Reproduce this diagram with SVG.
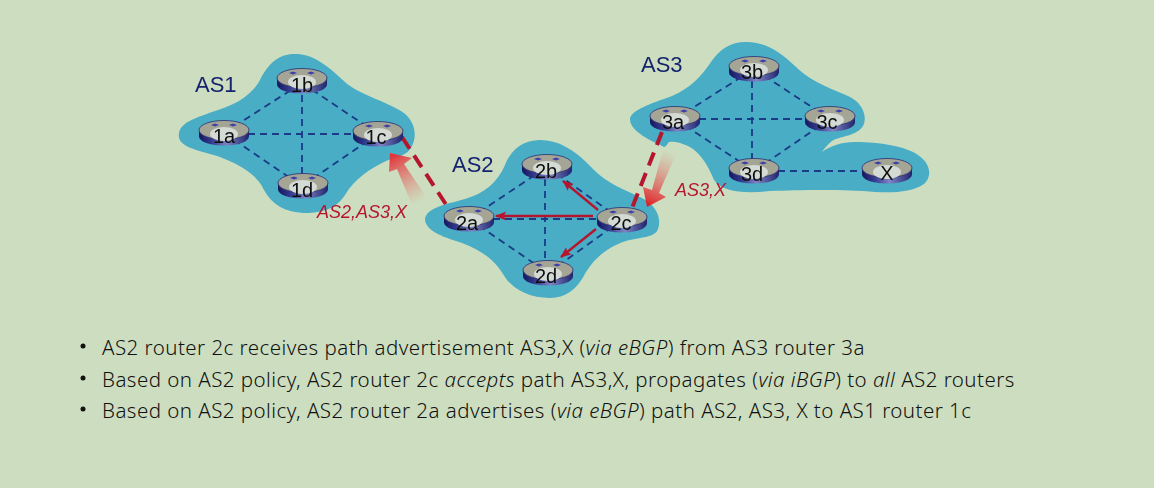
<svg xmlns="http://www.w3.org/2000/svg" width="1154" height="488" viewBox="0 0 1154 488">
<style>
.cloud{fill:#48adc6}
.link{fill:none;stroke:#1a3a86;stroke-width:1.8;stroke-dasharray:7 5}
.ebgp{fill:none;stroke:#b5182f;stroke-width:4;stroke-dasharray:14 8}
.ibgp{fill:none;stroke:#b5182f;stroke-width:2.4;marker-end:url(#ah)}
.rl{font-family:"Liberation Sans",Arial,sans-serif;font-size:20px;fill:#111;text-anchor:middle}
.as{font-family:"Liberation Sans",Arial,sans-serif;font-size:22px;fill:#14246e}
.pl{font-family:"Liberation Sans",Arial,sans-serif;font-size:18px;font-style:italic;fill:#b5182f}
.t{font-family:"Noto Sans","Liberation Sans",sans-serif;font-size:20.500px;letter-spacing:.46px;fill:#111;font-weight:300}
.i{font-style:italic}
</style>
<defs>
<marker id="ah" markerUnits="userSpaceOnUse" markerWidth="12" markerHeight="10" refX="10" refY="4.5" orient="auto"><path d="M0 0L11 4.5L0 9L2 4.5Z" fill="#b5182f"/></marker>
<linearGradient id="g1" gradientUnits="userSpaceOnUse" x1="420" y1="202" x2="393" y2="155"><stop offset="0" stop-color="#e8756c" stop-opacity="0"/><stop offset="1" stop-color="#e2343a"/></linearGradient>
<linearGradient id="g2" gradientUnits="userSpaceOnUse" x1="670" y1="151" x2="648" y2="205"><stop offset="0" stop-color="#e8756c" stop-opacity="0"/><stop offset="1" stop-color="#e0232a"/></linearGradient>
<linearGradient id="rg" x1="0" x2="1" y1="0" y2="0"><stop offset="0" stop-color="#15185e"/><stop offset=".25" stop-color="#343a8e"/><stop offset=".55" stop-color="#7d83c4"/><stop offset="1" stop-color="#20246e"/></linearGradient>
<g id="router">
<path d="M-25-3V3C-25 9-14 12.500 0 12.500S25 9 25 3V-3Z" fill="url(#rg)"/>
<ellipse cx="0" cy="-3" rx="25" ry="9.500" fill="#a5a596" stroke="#2a2d70" stroke-width=".8"/>
<ellipse cx="0" cy="1" rx="14" ry="7" fill="#d4dad4"/>
<path d="M-13-8l4-1.500 4 1.500-4 1.500ZM5-8l4-1.500 4 1.500-4 1.500Z" fill="#3d3fa8"/>
</g>
<filter id="soft" x="-5%" y="-5%" width="110%" height="110%"><feGaussianBlur stdDeviation="0.5"/></filter>
</defs>
<rect width="1154" height="488" fill="#cddec0"/>
<g filter="url(#soft)">
<g id="clouds">
<path class="cloud" d="M179 133C181 122 196 118 212 112C232 106 250 98 260 80C268 64 278 54 295 54C312 54 326 64 345 82C358 94 385 101 401 111C414 119 418 134 412 146C408 156 396 157 386 161C370 169 355 178 345 195C335 211 318 213 303 213C285 212 272 205 264 190C256 173 238 164 220 157C200 150 176 148 179 133Z"/>
<path class="cloud" d="M425 219C427 208 443 205 465 199C485 193 497 183 505 165C511 149 524 140 540 140C558 140 574 149 592 168C606 183 625 190 642 198C656 205 662 218 658 229C655 238 640 237 626 241C610 246 596 256 586 272C577 290 565 298 550 298C530 298 512 290 503 274C494 259 479 249 462 243C447 238 425 232 425 219Z"/>
<path class="cloud" d="M630 119C631 110 650 104 672 96C690 88 700 78 711 62C720 49 730 42 746 42C766 42 780 52 795 66C806 78 826 87 848 96C862 102 868 116 863 126C857 136 840 136 832 141C827 145 824 149 822 152C830 146 842 142 855 142C880 142 905 146 918 155C930 163 933 176 924 184C912 192 895 193 875 192C845 189 800 190 770 191C745 194 722 192 714 180C708 165 700 152 688 146C680 142 673 141 669 142C667 144 666 147 664 147C652 141 630 132 630 119Z"/>
</g>
<g id="connectors">
<path class="link" d="M224 133L302 83M224 134H378M224 133L302 186M302 83L378 134M302 83V186M378 134L302 186"/>
<path class="link" d="M469 219L547 167M469 219H622M469 219L548 273M547 167L622 220M545 167V273M622 220L548 273"/>
<path class="link" d="M675 119L754 69M675 119H830M675 119L754 171M754 69L830 119M752 69V171M830 119L754 171M754 171H887"/>
<path class="ebgp" d="M402 137L447 206"/>
<path class="ebgp" d="M662 132L632 208"/>
<path d="M390 153L412 158L404 164L427 198L412 205L397 169L389 172Z" fill="url(#g1)"/>
<path d="M647 207L643 187L652 190L663 150L677 152L659 193L666 197Z" fill="url(#g2)"/>
<path class="ibgp" d="M598 210L563 181"/>
<path class="ibgp" d="M593 216H496"/>
<path class="ibgp" d="M596 229L561 257"/>
</g>
<g id="r1a"><use href="#router" x="224" y="133"/><text class="rl" x="224" y="143">1a</text></g>
<g id="r1b"><use href="#router" x="302" y="81"/><text class="rl" x="302" y="92">1b</text></g>
<g id="r1c"><use href="#router" x="378" y="134"/><text class="rl" x="376" y="144">1c</text></g>
<g id="r1d"><use href="#router" x="303" y="186"/><text class="rl" x="302" y="197">1d</text></g>
<g id="r2a"><use href="#router" x="469" y="219"/><text class="rl" x="467" y="230">2a</text></g>
<g id="r2b"><use href="#router" x="547" y="167"/><text class="rl" x="546" y="178">2b</text></g>
<g id="r2c"><use href="#router" x="622" y="220"/><text class="rl" x="621" y="230">2c</text></g>
<g id="r2d"><use href="#router" x="548" y="273"/><text class="rl" x="546" y="283">2d</text></g>
<g id="r3a"><use href="#router" x="675" y="119"/><text class="rl" x="673" y="129">3a</text></g>
<g id="r3b"><use href="#router" x="754" y="69"/><text class="rl" x="752" y="79">3b</text></g>
<g id="r3c"><use href="#router" x="830" y="119"/><text class="rl" x="827" y="129">3c</text></g>
<g id="r3d"><use href="#router" x="754" y="171"/><text class="rl" x="752" y="181">3d</text></g>
<g id="rX"><use href="#router" x="887" y="171"/><text class="rl" x="887" y="180">X</text></g>
<text class="as" x="195" y="92">AS1</text>
<text class="as" x="452" y="172">AS2</text>
<text class="as" x="641" y="72">AS3</text>
<text class="pl" x="317" y="218">AS2,AS3,X</text>
<text class="pl" x="675" y="196">AS3,X</text>
</g>
<g id="bullets">
<circle cx="83" cy="346" r="2.500" fill="#111"/>
<circle cx="83" cy="378" r="2.500" fill="#111"/>
<circle cx="83" cy="409" r="2.500" fill="#111"/>
<text class="t" x="102" y="355">AS2 router 2c receives path advertisement AS3,X (<tspan class="i">via eBGP</tspan>) from AS3 router 3a</text>
<text class="t" x="102" y="387">Based on AS2 policy, AS2 router 2c <tspan class="i">accepts</tspan> path AS3,X, propagates (<tspan class="i">via iBGP</tspan>) to <tspan class="i">all</tspan> AS2 routers</text>
<text class="t" x="102" y="418">Based on AS2 policy, AS2 router 2a advertises (<tspan class="i">via eBGP</tspan>) path AS2, AS3, X to AS1 router 1c</text>
</g>
</svg>
